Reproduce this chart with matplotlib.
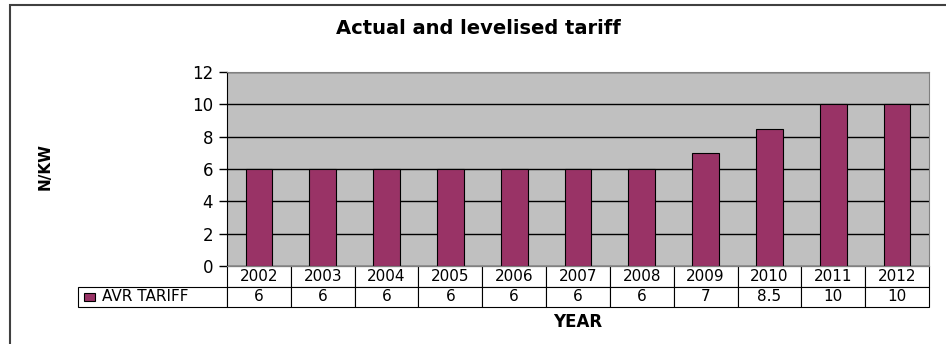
import matplotlib.pyplot as plt
from matplotlib.patches import Rectangle

plt.rcParams['font.family'] = ['DejaVu Sans']

years = ['2002', '2003', '2004', '2005', '2006', '2007', '2008', '2009', '2010', '2011', '2012']
avr_tariff = [6, 6, 6, 6, 6, 6, 6, 7, 8.5, 10, 10]
series_name = 'AVR TARIFF'
bar_color = '#993366'

W, H = 946, 344
ax_l, ax_r, ax_top, ax_bot = 227, 929, 72, 266
tab_l, tab_bot = 78, 307
ax_w, ax_h = ax_r - ax_l, ax_bot - ax_top

fig = plt.figure(figsize=(W / 100, H / 100), dpi=100)
ax = fig.add_axes([ax_l / W, 1 - ax_bot / H, ax_w / W, ax_h / H])

ax.set_facecolor('#c0c0c0')
ax.set_axisbelow(True)
ax.grid(axis='y', color='black', linewidth=1)
x = range(len(years))
ax.bar(x, avr_tariff, width=0.42, color=bar_color, edgecolor='black', linewidth=0.8)
ax.set_xlim(-0.5, len(years) - 0.5)
ax.set_ylim(0, 12)
ax.set_yticks(range(0, 13, 2))
ax.tick_params(axis='y', labelsize=12, length=6, width=1, pad=4)
ax.tick_params(axis='x', bottom=False, labelbottom=False)
for s in ['top', 'right', 'bottom']:
    ax.spines[s].set_color('#808080')
ax.spines['left'].set_color('black')

# data table under the bars
cells = [[''] + years, [series_name] + [f'{v:g}' for v in avr_tariff]]
lab_w = (ax_l - tab_l) / ax_w
col_w = 1.0 / len(years)
tbl_h = (tab_bot - ax_bot) / ax_h
tbl = ax.table(cellText=cells, colWidths=[lab_w] + [col_w] * len(years),
               cellLoc='center', bbox=[-lab_w, -tbl_h, 1 + lab_w, tbl_h])
tbl.auto_set_font_size(False)
tbl.set_fontsize(11)
for (r, c), cell in tbl.get_celld().items():
    cell.set_linewidth(0.8)
    if r == 0 and c == 0:
        cell.visible_edges = ''
    if r == 1 and c == 0:
        cell.get_text().set_ha('left')
        cell.PAD = (102 - tab_l) / (ax_l - tab_l)

# legend key inside the row label cell
ax.add_patch(Rectangle(((84 - ax_l) / ax_w, -(301 - ax_bot) / ax_h), 11 / ax_w, 8 / ax_h,
                       facecolor=bar_color, edgecolor='black', linewidth=0.8,
                       transform=ax.transAxes, clip_on=False))

fig.text(478 / W, 1 - 29 / H, 'Actual and levelised tariff', ha='center', va='center',
         fontsize=14, fontweight='bold')
fig.text(578 / W, 1 - 322 / H, 'YEAR', ha='center', va='center',
         fontsize=12, fontweight='bold')
fig.text(45 / W, 1 - 166 / H, 'N/KW', ha='center', va='center', rotation=90,
         fontsize=11, fontweight='bold')

# outer chart border (only top and left edges fall inside the picture)
fig.patches.append(Rectangle((10 / W, -0.5), 2, 1.5 - 5 / H, fill=False,
                             edgecolor='#404040', linewidth=1.5, transform=fig.transFigure))

fig.savefig('out.png', dpi=100)
